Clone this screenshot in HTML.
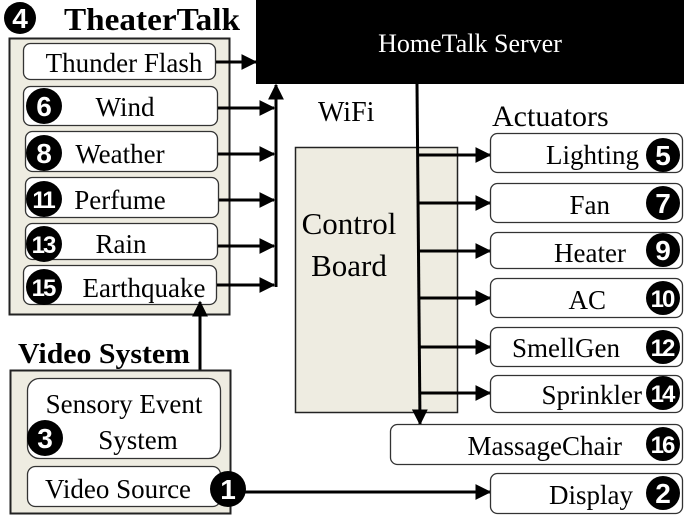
<!DOCTYPE html>
<html><head><meta charset="utf-8"><style>
html,body{margin:0;padding:0;background:#fff;}
svg{display:block;}
</style></head><body>
<svg width="685" height="515" viewBox="0 0 685 515" xmlns="http://www.w3.org/2000/svg" font-family="'Liberation Serif', 'Times New Roman', serif">
<defs>
<marker id="A" viewBox="0 0 12 12" markerWidth="16" markerHeight="16" refX="11" refY="6" orient="auto" markerUnits="userSpaceOnUse">
<path d="M0,0 L12,6 L0,12 Z" fill="#000"/></marker>
</defs>

<!-- TheaterTalk panel -->
<text x="64" y="30" font-size="32" font-weight="bold" font-family="'Liberation Serif', serif" textLength="176" lengthAdjust="spacingAndGlyphs">TheaterTalk</text>
<rect x="9.5" y="38.5" width="220" height="276" fill="#eeece1" stroke="#222" stroke-width="2"/>
<g fill="#fff" stroke="#333" stroke-width="1.3">
<rect x="23.5" y="43.5" width="192" height="36" rx="7"/>
<rect x="23.5" y="86.5" width="194" height="39" rx="7"/>
<rect x="25.5" y="131.5" width="192" height="40" rx="7"/>
<rect x="25.5" y="177.5" width="193" height="40" rx="7"/>
<rect x="25.5" y="223.5" width="192" height="36" rx="7"/>
<rect x="23.5" y="265.5" width="193" height="39" rx="7"/>
</g>
<g font-size="27" text-anchor="middle" font-family="'Liberation Serif', serif">
<text x="124" y="72">Thunder Flash</text>
<text x="125" y="116">Wind</text>
<text x="120" y="163">Weather</text>
<text x="120" y="209">Perfume</text>
<text x="121" y="253">Rain</text>
<text x="144" y="297">Earthquake</text>
</g>

<!-- Server -->
<rect x="256" y="0" width="428" height="84" fill="#000"/>
<text x="470" y="52" font-size="26" fill="#fff" text-anchor="middle" font-family="'Liberation Serif', serif">HomeTalk Server</text>

<!-- theater arrows -->
<g stroke="#000" stroke-width="3" fill="none">
<line x1="216" y1="62" x2="256" y2="62" marker-end="url(#A)"/>
<line x1="218" y1="108" x2="274" y2="108" marker-end="url(#A)"/>
<line x1="218" y1="154" x2="274" y2="154" marker-end="url(#A)"/>
<line x1="219" y1="200" x2="274" y2="200" marker-end="url(#A)"/>
<line x1="218" y1="246" x2="274" y2="246" marker-end="url(#A)"/>
<line x1="217" y1="285" x2="274" y2="285" marker-end="url(#A)"/>
<line x1="276" y1="287" x2="276" y2="85" marker-end="url(#A)"/>
</g>

<!-- WiFi / control board -->
<text x="318" y="121" font-size="28" font-family="'Liberation Serif', serif">WiFi</text>
<rect x="295.5" y="147.5" width="162" height="265" fill="#eeece1" stroke="#222" stroke-width="1.5"/>
<g font-size="31" text-anchor="middle" font-family="'Liberation Serif', serif">
<text x="349" y="234">Control</text>
<text x="349" y="276">Board</text>
</g>

<g stroke="#000" stroke-width="3" fill="none">
<line x1="417" y1="84" x2="420" y2="424" marker-end="url(#A)"/>
<line x1="418" y1="155" x2="490" y2="155" marker-end="url(#A)"/>
<line x1="418" y1="203" x2="490" y2="203" marker-end="url(#A)"/>
<line x1="419" y1="251" x2="490" y2="251" marker-end="url(#A)"/>
<line x1="419" y1="298" x2="490" y2="298" marker-end="url(#A)"/>
<line x1="419" y1="347" x2="490" y2="347" marker-end="url(#A)"/>
<line x1="419" y1="393" x2="490" y2="393" marker-end="url(#A)"/>
<line x1="240" y1="492" x2="490" y2="492" marker-end="url(#A)"/>
<line x1="200" y1="378" x2="200" y2="302" marker-end="url(#A)"/>
</g>

<!-- Actuators -->
<text x="492" y="126" font-size="30" font-family="'Liberation Serif', serif">Actuators</text>
<g fill="#fff" stroke="#333" stroke-width="1.3">
<rect x="490.5" y="133.5" width="192" height="39" rx="7"/>
<rect x="490.5" y="183.5" width="192" height="39" rx="7"/>
<rect x="490.5" y="232.5" width="192" height="36" rx="7"/>
<rect x="490.5" y="278.5" width="192" height="39" rx="7"/>
<rect x="490.5" y="327.5" width="192" height="39" rx="7"/>
<rect x="490.5" y="375.5" width="192" height="37" rx="7"/>
<rect x="390.5" y="424.5" width="292" height="40" rx="7"/>
<rect x="490.5" y="473.5" width="192" height="40" rx="7"/>
</g>
<g font-size="27" text-anchor="end" font-family="'Liberation Serif', serif">
<text x="639" y="164">Lighting</text>
<text x="610" y="214">Fan</text>
<text x="626" y="262">Heater</text>
<text x="606" y="309">AC</text>
<text x="620" y="357">SmellGen</text>
<text x="642" y="404">Sprinkler</text>
<text x="622" y="455">MassageChair</text>
<text x="633" y="504">Display</text>
</g>

<!-- Video System -->
<text x="18" y="363" font-size="29" font-weight="bold" font-family="'Liberation Serif', serif" textLength="172" lengthAdjust="spacingAndGlyphs">Video System</text>
<rect x="10.5" y="370.5" width="220" height="143" fill="#eeece1" stroke="#222" stroke-width="2"/>
<g fill="#fff" stroke="#333" stroke-width="1.3">
<rect x="27.5" y="378.5" width="193" height="80" rx="12"/>
<rect x="27.5" y="466.5" width="193" height="40" rx="8"/>
</g>
<g font-size="27" text-anchor="middle" font-family="'Liberation Serif', serif">
<text x="124" y="413">Sensory Event</text>
<text x="138" y="449">System</text>
<text x="118" y="498">Video Source</text>
</g>

<!-- badges -->
<g fill="#000">
<circle cx="20" cy="18" r="16"/>
<circle cx="44" cy="106" r="18"/>
<circle cx="44" cy="153" r="18"/>
<circle cx="44" cy="199" r="18"/>
<circle cx="44" cy="244" r="18"/>
<circle cx="44" cy="287" r="18"/>
<circle cx="45" cy="438" r="18"/>
<circle cx="228" cy="489" r="18"/>
<circle cx="663" cy="155" r="17"/>
<circle cx="663" cy="203" r="17"/>
<circle cx="663" cy="250" r="17"/>
<circle cx="663" cy="298" r="17"/>
<circle cx="663" cy="347" r="17"/>
<circle cx="663" cy="393" r="17"/>
<circle cx="663" cy="444" r="17"/>
<circle cx="663" cy="493" r="17"/>
</g>
<g font-family="'Liberation Sans', sans-serif" font-weight="bold" fill="#fff" font-size="28" text-anchor="middle">
<text x="20" y="28">4</text>
<text x="44" y="116">6</text>
<text x="44" y="163">8</text>
<text x="45" y="448">3</text>
<text x="228" y="499">1</text>
<text x="663" y="165">5</text>
<text x="663" y="213">7</text>
<text x="663" y="260">9</text>
<text x="663" y="503">2</text>
</g>
<g font-family="'Liberation Sans', sans-serif" font-weight="bold" fill="#fff" font-size="24" text-anchor="middle" letter-spacing="-2">
<text x="43" y="208">11</text>
<text x="43" y="253">13</text>
<text x="43" y="296">15</text>
<text x="662" y="307">10</text>
<text x="662" y="356">12</text>
<text x="662" y="402">14</text>
<text x="662" y="453">16</text>
</g>
</svg>
</body></html>
